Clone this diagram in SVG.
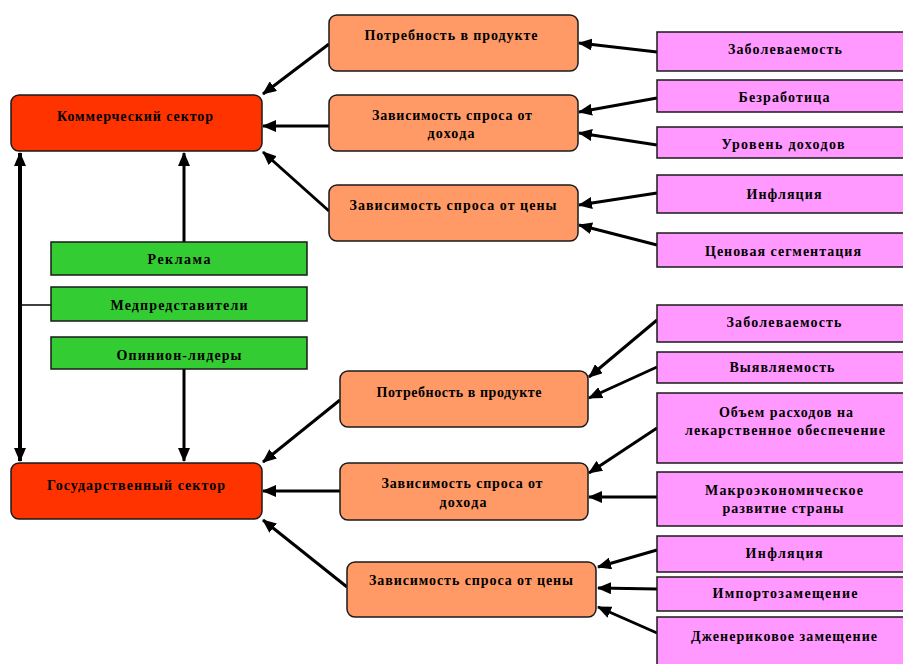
<svg xmlns="http://www.w3.org/2000/svg" width="903" height="664" viewBox="0 0 903 664">
<defs>
<marker id="ah" markerUnits="userSpaceOnUse" markerWidth="14" markerHeight="12" refX="13" refY="6" orient="auto">
<path d="M0,0 L14,6 L0,12 z" fill="#000"/>
</marker>
<style>
.t{font-family:"Liberation Serif","Times New Roman",serif;font-size:14px;font-weight:bold;fill:#000;text-anchor:middle}
.red{fill:#FF3300;stroke:#1a1a1a;stroke-width:1.5}
.org{fill:#FF9966;stroke:#1a1a1a;stroke-width:1.5}
.pnk{fill:#FF99FF;stroke:#1a1a1a;stroke-width:1.5}
.grn{fill:#33CC33;stroke:#1a1a1a;stroke-width:1.5}
.ca{stroke:#000;stroke-width:3;fill:none;marker-end:url(#ah)}
</style>
</defs>
<rect width="903" height="664" fill="#fff"/>

<g id="connectors">
<line x1="20" y1="305" x2="20" y2="153" class="ca" style="stroke-width:4"/>
<line x1="20" y1="305" x2="20" y2="461" class="ca" style="stroke-width:4"/>
<line x1="20" y1="305" x2="51" y2="305" stroke="#000" stroke-width="1.5"/>
<line x1="184" y1="242" x2="184" y2="153" class="ca"/>
<line x1="184" y1="369" x2="184" y2="461" class="ca"/>
<line x1="329" y1="44" x2="263" y2="94" class="ca"/>
<line x1="329" y1="126" x2="263" y2="126" class="ca"/>
<line x1="329" y1="211" x2="263" y2="152" class="ca"/>
<line x1="657" y1="52" x2="579" y2="43" class="ca"/>
<line x1="657" y1="98" x2="579" y2="112" class="ca"/>
<line x1="657" y1="145" x2="579" y2="133" class="ca"/>
<line x1="657" y1="193" x2="579" y2="205" class="ca"/>
<line x1="657" y1="245" x2="579" y2="225" class="ca"/>
<line x1="340" y1="400" x2="263" y2="462" class="ca"/>
<line x1="340" y1="491" x2="263" y2="491" class="ca"/>
<line x1="347" y1="587" x2="263" y2="520" class="ca"/>
<line x1="657" y1="320" x2="589" y2="377" class="ca"/>
<line x1="657" y1="367" x2="589" y2="398" class="ca"/>
<line x1="657" y1="428" x2="589" y2="473" class="ca"/>
<line x1="657" y1="497" x2="589" y2="497" class="ca"/>
<line x1="657" y1="550" x2="598" y2="567" class="ca"/>
<line x1="657" y1="589" x2="598" y2="588" class="ca"/>
<line x1="657" y1="633" x2="598" y2="607" class="ca"/>
</g>

<g id="commercial">
<rect x="11" y="95" width="251" height="56" rx="8" class="red"/>
<text x="135" y="121" class="t" textLength="156" lengthAdjust="spacing">Коммерческий сектор</text>
</g>
<g id="government">
<rect x="11" y="463" width="251" height="56" rx="8" class="red"/>
<text x="136" y="490" class="t" textLength="178" lengthAdjust="spacing">Государственный сектор</text>
</g>

<g id="green-ads">
<rect x="51" y="242" width="256" height="33" class="grn"/>
<text x="179" y="264" class="t" textLength="63" lengthAdjust="spacing">Реклама</text>
</g>
<g id="green-reps">
<rect x="51" y="287" width="256" height="34" class="grn"/>
<text x="179" y="310" class="t" textLength="137" lengthAdjust="spacing">Медпредставители</text>
</g>
<g id="green-kol">
<rect x="51" y="337" width="256" height="32" class="grn"/>
<text x="179" y="360" class="t" textLength="125" lengthAdjust="spacing">Опинион-лидеры</text>
</g>

<g id="top-need">
<rect x="329" y="15" width="249" height="56" rx="8" class="org"/>
<text x="451" y="40" class="t" textLength="173" lengthAdjust="spacing">Потребность в продукте</text>
</g>
<g id="top-income">
<rect x="329" y="95" width="249" height="56" rx="8" class="org"/>
<text x="452" y="120" class="t" textLength="160" lengthAdjust="spacing">Зависимость спроса от</text>
<text x="451" y="138" class="t" textLength="47" lengthAdjust="spacing">дохода</text>
</g>
<g id="top-price">
<rect x="329" y="185" width="249" height="56" rx="8" class="org"/>
<text x="453" y="210" class="t" textLength="207" lengthAdjust="spacing">Зависимость спроса от цены</text>
</g>

<g id="bot-need">
<rect x="340" y="371" width="248" height="56" rx="8" class="org"/>
<text x="459" y="397" class="t" textLength="165" lengthAdjust="spacing">Потребность в продукте</text>
</g>
<g id="bot-income">
<rect x="340" y="463" width="248" height="57" rx="8" class="org"/>
<text x="462" y="488" class="t" textLength="161" lengthAdjust="spacing">Зависимость спроса от</text>
<text x="463" y="507" class="t" textLength="47" lengthAdjust="spacing">дохода</text>
</g>
<g id="bot-price">
<rect x="347" y="562" width="249" height="55" rx="8" class="org"/>
<text x="471" y="585" class="t" textLength="204" lengthAdjust="spacing">Зависимость спроса от цены</text>
</g>

<g id="p-morbidity-1">
<rect x="657" y="32" width="256" height="39" class="pnk"/>
<text x="785" y="54" class="t" textLength="114" lengthAdjust="spacing">Заболеваемость</text>
</g>
<g id="p-unemployment">
<rect x="657" y="80" width="256" height="32" class="pnk"/>
<text x="784" y="102" class="t" textLength="91" lengthAdjust="spacing">Безработица</text>
</g>
<g id="p-income-level">
<rect x="657" y="127" width="256" height="31" class="pnk"/>
<text x="783" y="149" class="t" textLength="123" lengthAdjust="spacing">Уровень доходов</text>
</g>
<g id="p-inflation-1">
<rect x="657" y="175" width="256" height="38" class="pnk"/>
<text x="784" y="199" class="t" textLength="75" lengthAdjust="spacing">Инфляция</text>
</g>
<g id="p-price-seg">
<rect x="657" y="233" width="256" height="34" class="pnk"/>
<text x="783" y="256" class="t" textLength="156" lengthAdjust="spacing">Ценовая сегментация</text>
</g>

<g id="p-morbidity-2">
<rect x="657" y="305" width="256" height="37" class="pnk"/>
<text x="784" y="327" class="t" textLength="115" lengthAdjust="spacing">Заболеваемость</text>
</g>
<g id="p-detection">
<rect x="657" y="352" width="256" height="31" class="pnk"/>
<text x="782" y="372" class="t" textLength="105" lengthAdjust="spacing">Выявляемость</text>
</g>
<g id="p-spending">
<rect x="657" y="393" width="256" height="70" class="pnk"/>
<text x="786" y="417" class="t" textLength="134" lengthAdjust="spacing">Объем расходов на</text>
<text x="785" y="435" class="t" textLength="200" lengthAdjust="spacing">лекарственное обеспечение</text>
</g>
<g id="p-macro">
<rect x="657" y="472" width="256" height="54" class="pnk"/>
<text x="784" y="495" class="t" textLength="158" lengthAdjust="spacing">Макроэкономическое</text>
<text x="783" y="513" class="t" textLength="121" lengthAdjust="spacing">развитие страны</text>
</g>
<g id="p-inflation-2">
<rect x="657" y="536" width="256" height="36" class="pnk"/>
<text x="784" y="558" class="t" textLength="77" lengthAdjust="spacing">Инфляция</text>
</g>
<g id="p-import">
<rect x="657" y="577" width="256" height="34" class="pnk"/>
<text x="785" y="598" class="t" textLength="145" lengthAdjust="spacing">Импортозамещение</text>
</g>
<g id="p-generic">
<rect x="657" y="617" width="256" height="60" class="pnk"/>
<text x="784" y="641" class="t" textLength="186" lengthAdjust="spacing">Дженериковое замещение</text>
</g>
</svg>
